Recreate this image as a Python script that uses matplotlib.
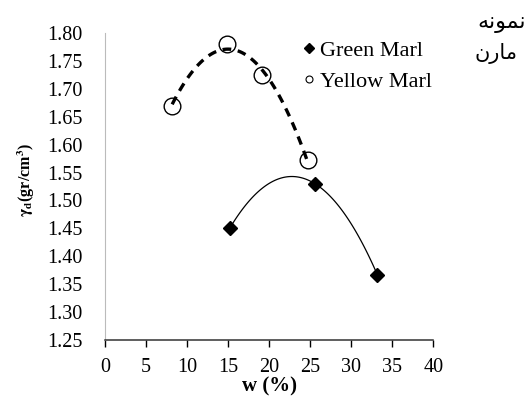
import matplotlib.pyplot as plt
import numpy as np
from matplotlib.lines import Line2D

plt.rcParams['font.family'] = ['Liberation Serif', 'DejaVu Serif']
plt.rcParams['mathtext.fontset'] = 'stix'

# moisture content (%) and dry unit weight (gr/cm3)
green_w = [15.2, 25.6, 33.2]
green_gd = [1.45, 1.53, 1.367]
yellow_w = [8.2, 14.9, 19.1, 24.7]
yellow_gd = [1.67, 1.78, 1.725, 1.572]

x_ticks = [0, 5, 10, 15, 20, 25, 30, 35, 40]
y_ticks = [1.25, 1.30, 1.35, 1.40, 1.45, 1.50, 1.55, 1.60, 1.65, 1.70, 1.75, 1.80]

fig = plt.figure(figsize=(5.27, 3.96), dpi=100)
ax = fig.add_axes([0.199, 0.141, 0.623, 0.776])

# second order trend lines
gx = np.linspace(min(green_w), max(green_w), 100)
ax.plot(gx, np.polyval(np.polyfit(green_w, green_gd, 2), gx), color='black', lw=0.9)
yx = np.linspace(min(yellow_w), max(yellow_w), 100)
ax.plot(yx, np.polyval(np.polyfit(yellow_w, yellow_gd, 2), yx), color='black',
        lw=2.4, linestyle=(0, (2.6, 2.0)))

ax.plot(green_w, green_gd, 'D', color='black', markersize=7, ls='none')
ax.plot(yellow_w, yellow_gd, 'o', mfc='none', mec='black', mew=1.0, markersize=12, ls='none')

ax.set_xlim(0, 40)
ax.set_ylim(1.25, 1.80)
ax.set_xticks(x_ticks)
ax.set_yticks(y_ticks)
ax.set_yticklabels([f'{v:.2f}' for v in y_ticks])
ax.tick_params(axis='y', length=0, pad=16, labelsize=14.5)
ax.tick_params(axis='x', length=5, width=1, direction='out', pad=8, labelsize=14.5)

for s in ['top', 'right']:
    ax.spines[s].set_visible(False)
ax.spines['left'].set_color('#bbbbbb')
ax.spines['bottom'].set_color('#333333')
ax.spines['bottom'].set_linewidth(1.1)

ax.set_xlabel('w (%)', fontweight='bold', fontsize=15, va='center')
ax.xaxis.set_label_coords(0.5, -0.152)
ax.set_ylabel(r'$\mathbf{\gamma_d}$(gr/cm$^\mathbf{3}$)', fontweight='bold', fontsize=11.5, va='center')
ax.yaxis.set_label_coords(-0.238, 0.52)

handles = [
    Line2D([], [], marker='D', color='black', ls='none', markersize=5),
    Line2D([], [], marker='o', mfc='none', mec='black', ls='none', markersize=5, mew=0.8),
]
ax.legend(handles, ['Green Marl', 'Yellow Marl'], loc='upper left',
          bbox_to_anchor=(0.57, 1.013), frameon=False, fontsize=16,
          handlelength=0.5, handletextpad=0.25, labelspacing=0.48, borderpad=0.0)

# Persian caption, letters in presentation forms written left to right
fig.text(0.997, 0.943, '\uFEEA\uFEE7\uFEEE\uFEE4\uFEE7', family='DejaVu Sans',
         fontsize=16, ha='right', va='center')
fig.text(0.982, 0.865, '\uFEE5\uFEAD\uFE8E\uFEE3', family='DejaVu Sans',
         fontsize=15, ha='right', va='center')

fig.savefig('out.png', dpi=100)
